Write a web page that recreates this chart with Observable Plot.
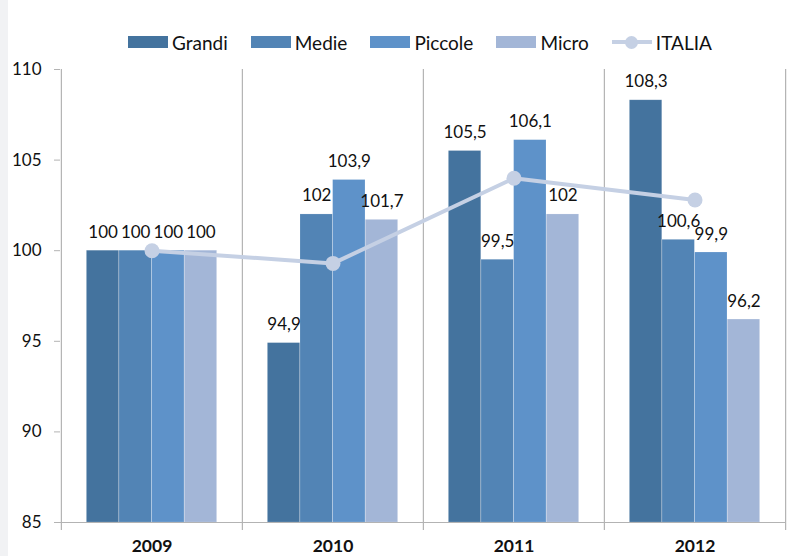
<!DOCTYPE html>
<html>
<head>
<meta charset="utf-8">
<script src="https://cdn.jsdelivr.net/npm/d3@7"></script>
<script src="https://cdn.jsdelivr.net/npm/@observablehq/plot@0.6"></script>
<style>
  html, body { margin: 0; padding: 0; }
  body {
    width: 809px; height: 556px; overflow: hidden;
    background: linear-gradient(to right, #f1f2f4 0px, #f1f2f4 8px, #ffffff 8px);
    font-family: Lato, "Noto Sans", sans-serif;
  }
  #legend { position: relative; height: 55px; }
  #legend .row {
    position: absolute; top: 31px; left: 128px;
    display: flex; align-items: center; height: 22px;
    font-size: 19px; color: #111;
  }
  #legend .item { display: flex; align-items: center; margin-right: 23px; }
  #legend .sw { width: 40px; height: 12px; margin-right: 4px; }
  #legend .ln { position: relative; width: 40px; height: 12px; margin-right: 4px; }
  #legend .ln::before { content: ""; position: absolute; left: 0; right: 0; top: 4px; height: 4px; background: #c5d0e4; }
  #legend .ln::after { content: ""; position: absolute; left: 13px; top: -0.5px; width: 13px; height: 13px; border-radius: 50%; background: #c5d0e4; }
</style>
</head>
<body>
<div id="legend"></div>
<div id="chart"></div>
<script>
// ---- data ----
const years = ["2009", "2010", "2011", "2012"];
const seriesNames = ["Grandi", "Medie", "Piccole", "Micro"];
const grandi  = [100, 94.9, 105.5, 108.3];
const medie   = [100, 102, 99.5, 100.6];
const piccole = [100, 103.9, 106.1, 99.9];
const micro   = [100, 101.7, 102, 96.2];
const italia  = [100, 99.3, 104.0, 102.8];
const yTicks  = [85, 90, 95, 100, 105, 110];

const colors = ["#44739e", "#5284b5", "#5e92c9", "#a3b6d7"];
const lineColor = "#c5d0e4";
const seriesValues = [grandi, medie, piccole, micro];

// ---- legend ----
const row = document.createElement("div");
row.className = "row";
seriesNames.forEach((n, i) => {
  const it = document.createElement("div");
  it.className = "item";
  it.innerHTML = `<span class="sw" style="background:${colors[i]}"></span><span>${n}</span>`;
  row.appendChild(it);
});
const itL = document.createElement("div");
itL.className = "item";
itL.innerHTML = `<span class="ln"></span><span>ITALIA</span>`;
row.appendChild(itL);
document.getElementById("legend").appendChild(row);

// ---- layout ----
const W = 809, H = 501;
const mL = 60, mR = 24, mT = 14, mB = 34;
const bw = (W - mL - mR) / years.length;   // band width
const barFrac = 0.18;
const padFrac = (1 - barFrac * seriesNames.length) / 2;
const FONT = "Lato, 'Noto Sans', sans-serif";

const fmt = v => String(v).replace(".", ",");

const marks = [];
// bars
seriesValues.forEach((vals, i) => {
  const data = years.map((y, j) => ({year: y, value: vals[j]}));
  const insetLeft = bw * (padFrac + barFrac * i);
  const insetRight = bw - insetLeft - bw * barFrac;
  marks.push(Plot.barY(data, {
    x: "year", y1: 85, y2: "value", fill: colors[i],
    insetLeft, insetRight,
    stroke: "#ffffff", strokeOpacity: 0.25, strokeWidth: 0.6
  }));
});
// separators
marks.push(Plot.ruleX(years, {x: d => d, dx: -bw / 2, stroke: "#b3b3b3", strokeWidth: 1.2, insetBottom: -8}));
marks.push(Plot.ruleX([years[years.length - 1]], {x: d => d, dx: bw / 2, stroke: "#b3b3b3", strokeWidth: 1.2, insetBottom: -8}));
// baseline
marks.push(Plot.ruleY([85], {stroke: "#b3b3b3", strokeWidth: 1.2}));
// ITALIA line
const italiaData = years.map((y, j) => ({year: y, value: italia[j]}));
marks.push(Plot.line(italiaData, {x: "year", y: "value", stroke: lineColor, strokeWidth: 4}));
marks.push(Plot.dot(italiaData, {x: "year", y: "value", r: 7.5, fill: lineColor}));
// value labels
seriesValues.forEach((vals, i) => {
  const data = years.map((y, j) => ({year: y, value: vals[j]}));
  marks.push(Plot.text(data, {
    x: "year", y: "value", text: d => fmt(d.value),
    dx: bw * (padFrac + barFrac * i + barFrac / 2 - 0.5),
    dy: -13, lineAnchor: "bottom",
    fontSize: 17, fill: "#111", fontFamily: FONT
  }));
});
// axes
marks.push(Plot.axisY({ticks: yTicks, tickSize: 6, tickPadding: 13, stroke: "#b3b3b3",
  fontSize: 17, fill: "#111", fontFamily: FONT}));
marks.push(Plot.axisX({tickSize: 0, tickPadding: 17, fontSize: 17.5, fontWeight: "bold",
  fill: "#111", fontFamily: FONT}));

const chart = Plot.plot({
  width: W, height: H,
  marginLeft: mL, marginRight: mR, marginTop: mT, marginBottom: mB,
  style: {background: "transparent", overflow: "visible"},
  x: {type: "band", domain: years, padding: 0, label: null},
  y: {domain: [85, 110], label: null},
  marks
});
document.getElementById("chart").appendChild(chart);
</script>
</body>
</html>
